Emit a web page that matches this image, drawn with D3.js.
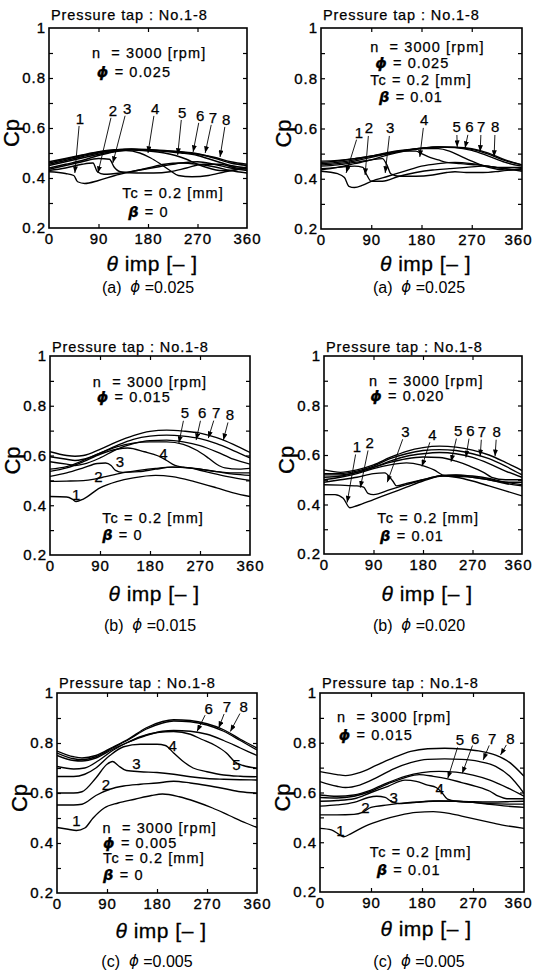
<!DOCTYPE html>
<html><head><meta charset="utf-8">
<script src="https://cdn.jsdelivr.net/npm/d3@7"></script>
<style>
body{margin:0;background:#fff}
text{font-family:"Liberation Sans",Arial,sans-serif;fill:#000;white-space:pre}
</style>
</head><body>
<svg id="c" width="534" height="973"></svg>
<script>
// ---------- axis ticks ----------
const xTicks=[0,90,180,270,360];
const yTicks=[0.2,0.4,0.6,0.8,1];
const xMinor=[90,180,270];
const yMinor=[0.3,0.4,0.5,0.6,0.7,0.8,0.9];
const tapNames=["1","2","3","4","5","6","7","8"];

// ---------- Panel (a) left : phi=0.025, beta=0 ----------
const a0_c1=[[0,.425],[30,.418],[45,.41],[52,.385],[65,.378],[90,.39],[120,.41],[150,.425],[180,.44],[210,.455],[240,.46],[270,.455],[300,.445],[330,.43],[360,.42]];
const a0_c2=[[0,.43],[30,.44],[60,.455],[80,.46],[88,.425],[100,.415],[130,.42],[160,.43],[200,.445],[240,.46],[270,.465],[300,.455],[330,.44],[360,.43]];
const a0_c3=[[0,.435],[30,.45],[60,.465],[90,.478],[110,.475],[118,.445],[130,.425],[160,.42],[190,.42],[220,.425],[250,.44],[280,.455],[310,.455],[340,.44],[360,.435]];
const a0_c4=[[0,.44],[30,.455],[60,.47],[90,.49],[120,.505],[140,.51],[165,.5],[185,.48],[200,.46],[220,.43],[235,.41],[260,.405],[290,.41],[320,.425],[360,.44]];
const a0_c5=[[0,.45],[30,.465],[60,.48],[90,.495],[120,.507],[150,.512],[180,.508],[210,.5],[230,.49],[250,.475],[270,.455],[290,.44],[310,.43],[330,.43],[360,.445]];
const a0_c6=[[0,.455],[30,.47],[60,.485],[90,.5],[120,.51],[150,.515],[180,.512],[210,.507],[240,.5],[270,.49],[300,.47],[330,.45],[360,.44]];
const a0_c7=[[0,.46],[30,.475],[60,.49],[90,.503],[120,.512],[150,.516],[180,.514],[210,.51],[240,.505],[270,.497],[300,.48],[330,.46],[360,.45]];
const a0_c8=[[0,.465],[30,.478],[60,.492],[90,.505],[120,.513],[150,.514],[180,.512],[210,.508],[240,.503],[270,.495],[300,.483],[330,.465],[360,.455]];
const a0_labels=[[56,.64,47,.42],[116,.672,89,.42],[142,.68,116,.46],[193,.68,180,.50],[242,.664,234,.492],[275,.652,262,.504],[298,.644,284,.50],[322,.636,311,.484]];

// ---------- Panel (a) right : phi=0.025, beta=0.01 ----------
const a1_c1=[[0,.43],[30,.42],[42,.405],[50,.37],[60,.365],[75,.375],[90,.39],[120,.41],[150,.43],[180,.45],[210,.46],[240,.465],[270,.46],[300,.45],[330,.44],[360,.43]];
const a1_c2=[[0,.44],[30,.445],[60,.45],[75,.445],[82,.415],[90,.39],[110,.39],[140,.41],[170,.425],[200,.435],[230,.44],[260,.445],[290,.45],[330,.44],[360,.435]];
const a1_c3=[[0,.45],[30,.455],[60,.465],[90,.475],[110,.48],[118,.455],[125,.42],[140,.41],[170,.41],[200,.415],[225,.425],[240,.428],[260,.425],[290,.425],[320,.43],[360,.44]];
const a1_c4=[[0,.455],[30,.46],[60,.47],[90,.485],[120,.5],[150,.51],[170,.51],[180,.5],[195,.485],[210,.475],[225,.465],[250,.46],[280,.455],[320,.445],[360,.445]];
const a1_c5=[[0,.46],[30,.465],[60,.475],[90,.49],[120,.505],[150,.515],[180,.52],[210,.52],[230,.51],[250,.49],[270,.47],[300,.445],[330,.435],[360,.44]];
const a1_c6=[[0,.465],[30,.47],[60,.48],[90,.49],[120,.502],[150,.513],[180,.522],[210,.526],[240,.524],[270,.513],[300,.49],[330,.465],[360,.45]];
const a1_c7=[[0,.47],[30,.473],[60,.48],[90,.49],[120,.5],[150,.512],[180,.522],[210,.527],[240,.525],[270,.517],[300,.498],[330,.472],[360,.455]];
const a1_c8=[[0,.435],[30,.445],[60,.46],[90,.475],[120,.495],[150,.51],[180,.52],[210,.527],[240,.526],[270,.52],[300,.502],[330,.475],[360,.455]];
const a1_labels=[[68,.586,45,.423],[86,.602,79,.415],[124,.602,115,.423],[185,.634,177,.487],[243,.606,244,.526],[266,.606,258,.522],[287,.606,285,.507],[312,.606,310,.487]];

// ---------- Panel (b) left : phi=0.015, beta=0 ----------
const b0_c1=[[0,.435],[30,.433],[40,.425],[47,.415],[60,.425],[90,.47],[120,.495],[150,.51],[190,.52],[220,.515],[260,.495],[300,.47],[330,.45],[360,.435]];
const b0_c2=[[0,.496],[30,.497],[60,.499],[80,.505],[100,.515],[130,.53],[160,.54],[190,.548],[220,.553],[250,.55],[280,.535],[320,.515],[360,.5]];
const b0_c3=[[0,.516],[30,.53],[60,.55],[85,.568],[100,.57],[110,.56],[118,.54],[130,.532],[160,.535],[190,.545],[220,.553],[260,.548],[300,.535],[330,.525],[360,.52]];
const b0_c4=[[0,.536],[30,.55],[60,.575],[90,.605],[120,.625],[140,.63],[170,.615],[195,.598],[210,.58],[225,.56],[240,.553],[270,.545],[300,.535],[330,.53],[360,.53]];
const b0_c5=[[0,.545],[30,.555],[60,.58],[90,.61],[120,.635],[150,.65],[180,.655],[210,.655],[240,.645],[265,.62],[285,.59],[300,.565],[315,.55],[340,.545],[360,.548]];
const b0_c6=[[0,.575],[30,.565],[45,.56],[60,.565],[90,.59],[120,.625],[150,.648],[180,.66],[210,.662],[240,.655],[270,.64],[300,.615],[330,.585],[360,.565]];
const b0_c7=[[0,.595],[30,.585],[45,.58],[60,.585],[90,.61],[120,.64],[150,.665],[180,.678],[210,.682],[240,.678],[270,.668],[300,.648],[330,.62],[360,.59]];
const b0_c8=[[0,.615],[30,.6],[45,.597],[60,.6],[90,.625],[120,.655],[150,.68],[180,.697],[210,.702],[240,.698],[270,.69],[300,.672],[330,.645],[360,.612]];
const b0_labels=[[47,.444],[87,.517],[126,.574],[204,.61],[243,.771,232,.65],[274,.771,263,.662],[299,.771,285,.67],[324,.764,312,.662]];

// ---------- Panel (b) right : phi=0.020, beta=0.01 ----------
const b1_c1=[[0,.44],[20,.44],[35,.425],[47,.387],[60,.395],[90,.42],[120,.445],[150,.47],[180,.495],[215,.515],[240,.51],[270,.495],[300,.475],[330,.455],[360,.435]];
const b1_c2=[[0,.48],[30,.478],[60,.475],[72,.47],[80,.445],[90,.44],[120,.46],[150,.48],[180,.5],[210,.515],[240,.518],[270,.51],[300,.5],[330,.485],[360,.475]];
const b1_c3=[[0,.49],[30,.5],[60,.51],[90,.525],[110,.528],[125,.495],[132,.475],[150,.485],[180,.5],[210,.515],[240,.52],[270,.515],[300,.505],[330,.49],[360,.48]];
const b1_c4=[[0,.5],[30,.51],[60,.525],[90,.545],[120,.56],[150,.568],[175,.56],[185,.553],[200,.54],[215,.52],[230,.515],[270,.51],[300,.5],[330,.49],[360,.49]];
const b1_c5=[[0,.51],[30,.515],[60,.53],[90,.55],[120,.57],[150,.585],[180,.592],[210,.59],[240,.575],[265,.555],[290,.53],[305,.51],[330,.5],[360,.5]];
const b1_c6=[[0,.52],[30,.52],[60,.53],[90,.55],[120,.575],[150,.595],[180,.605],[210,.61],[240,.605],[270,.59],[300,.565],[330,.535],[360,.51]];
const b1_c7=[[0,.525],[30,.525],[60,.535],[90,.555],[120,.585],[150,.605],[180,.618],[210,.622],[240,.618],[270,.605],[300,.585],[330,.555],[360,.52]];
const b1_c8=[[0,.54],[30,.53],[60,.54],[90,.56],[120,.59],[150,.615],[180,.63],[210,.636],[240,.632],[270,.62],[300,.6],[330,.57],[360,.537]];
const b1_labels=[[60,.634,42,.408],[83,.65,66,.468],[148,.694,115,.49],[197,.682,178,.554],[244,.698,231,.573],[266,.698,258,.59],[287,.694,284,.595],[314,.694,311,.595]];

// ---------- Panel (c) left : phi=0.005, beta=0 ----------
const c0_c1=[[0,.462],[20,.455],[35,.45],[50,.46],[65,.5],[85,.54],[110,.56],[140,.575],[170,.59],[190,.596],[220,.585],[250,.565],[280,.54],[310,.51],[340,.48],[360,.462]];
const c0_c2=[[0,.552],[30,.552],[45,.555],[70,.59],[95,.615],[120,.628],[150,.635],[180,.64],[210,.647],[240,.64],[270,.63],[300,.618],[330,.605],[360,.6]];
const c0_c3=[[0,.6],[30,.6],[45,.605],[70,.66],[90,.715],[100,.726],[110,.71],[125,.69],[150,.685],[180,.682],[210,.675],[240,.665],[270,.658],[300,.655],[330,.653],[360,.652]];
const c0_c4=[[0,.666],[30,.666],[50,.675],[70,.7],[95,.75],[120,.785],[150,.795],[180,.795],[195,.79],[210,.76],[225,.73],[245,.7],[270,.685],[300,.672],[330,.667],[360,.665]];
const c0_c5=[[0,.706],[30,.696],[50,.7],[75,.73],[100,.77],[125,.8],[150,.825],[180,.842],[210,.846],[240,.835],[260,.815],[285,.79],[305,.76],[320,.725],[335,.71],[360,.7]];
const c0_c6=[[0,.75],[30,.73],[45,.728],[70,.74],[100,.775],[130,.805],[160,.83],[190,.847],[210,.85],[240,.847],[270,.835],[300,.81],[330,.78],[360,.75]];
const c0_c7=[[0,.76],[30,.737],[45,.733],[70,.745],[100,.78],[130,.815],[160,.855],[190,.88],[210,.888],[240,.885],[270,.872],[300,.847],[330,.81],[360,.772]];
const c0_c8=[[0,.768],[30,.745],[45,.74],[70,.75],[100,.783],[130,.818],[160,.86],[190,.886],[210,.893],[240,.89],[270,.877],[300,.853],[330,.815],[360,.78]];
const c0_labels=[[35,.492],[88,.633],[143,.718],[208,.79],[323,.713],[273,.94,252,.846],[306,.946,291,.86],[336,.946,312,.846]];

// ---------- Panel (c) right : phi=0.015, beta=0.01 ----------
const c1_c1=[[0,.456],[20,.45],[35,.43],[42,.422],[55,.435],[80,.465],[110,.49],[140,.508],[170,.52],[200,.523],[230,.515],[260,.5],[290,.485],[320,.47],[360,.456]];
const c1_c2=[[0,.51],[30,.51],[60,.512],[75,.52],[90,.54],[120,.55],[150,.558],[180,.563],[210,.566],[240,.565],[270,.56],[300,.552],[330,.545],[360,.54]];
const c1_c3=[[0,.545],[30,.55],[60,.56],[85,.58],[100,.585],[115,.58],[125,.565],[140,.555],[170,.56],[200,.566],[240,.565],[270,.56],[300,.555],[330,.553],[360,.553]];
const c1_c4=[[0,.565],[30,.568],[60,.575],[90,.6],[120,.625],[150,.65],[170,.645],[190,.63],[205,.62],[215,.6],[225,.573],[240,.565],[270,.563],[300,.562],[330,.563],[360,.565]];
const c1_c5=[[0,.58],[30,.578],[60,.585],[90,.605],[120,.635],[150,.66],[175,.672],[200,.665],[225,.655],[250,.64],[275,.625],[300,.605],[315,.585],[330,.575],[360,.575]];
const c1_c6=[[0,.59],[30,.585],[60,.59],[90,.61],[120,.64],[150,.665],[180,.68],[210,.685],[240,.682],[270,.67],[300,.65],[330,.62],[360,.585]];
const c1_c7=[[0,.644],[30,.625],[45,.62],[70,.63],[100,.66],[130,.695],[160,.72],[190,.733],[220,.735],[250,.733],[280,.725],[310,.705],[335,.665],[360,.597]];
const c1_c8=[[0,.684],[30,.672],[45,.668],[70,.68],[100,.71],[130,.74],[160,.765],[190,.776],[220,.778],[250,.775],[280,.767],[310,.75],[335,.72],[360,.665]];
const c1_labels=[[36,.446],[80,.538],[130,.58],[211,.617],[247,.812,225.5,.657],[274,.819,251,.677],[304,.819,288,.731],[336,.819,318.6,.751]];

// ---------- condition texts (theta, Cp anchor of each line) ----------
const a0_info=[["n","3000 [rpm]",78,.90],["ϕ","0.025",87,.824],["Tc","0.2 [mm]",133,.34],["β","0",144,.264]];
const a1_info=[["n","3000 [rpm]",88,.924],["ϕ","0.025",97,.86],["Tc","0.2 [mm]",88,.793],["β","0.01",104,.725]];
const b0_info=[["n","3000 [rpm]",77,.895],["ϕ","0.015",84,.835],["Tc","0.2 [mm]",94,.349],["β","0",94,.28]];
const b1_info=[["n","3000 [rpm]",82,.898],["ϕ","0.020",84,.837],["Tc","0.2 [mm]",97,.347],["β","0.01",102,.274]];
const c0_info=[["n","3000 [rpm]",82,.46],["ϕ","0.005",83,.40],["Tc","0.2 [mm]",83,.34],["β","0",83,.271]];
const c1_info=[["n","3000 [rpm]",30,.904],["ϕ","0.015",33,.832],["Tc","0.2 [mm]",88,.36],["β","0.01",100,.288]];

const captions=[["(a)","0.025"],["(a)","0.025"],["(b)","0.015"],["(b)","0.020"],["(c)","0.005"],["(c)","0.005"]];

const panelData=[
  {curves:[a0_c1,a0_c2,a0_c3,a0_c4,a0_c5,a0_c6,a0_c7,a0_c8],labels:a0_labels,info:a0_info},
  {curves:[a1_c1,a1_c2,a1_c3,a1_c4,a1_c5,a1_c6,a1_c7,a1_c8],labels:a1_labels,info:a1_info},
  {curves:[b0_c1,b0_c2,b0_c3,b0_c4,b0_c5,b0_c6,b0_c7,b0_c8],labels:b0_labels,info:b0_info},
  {curves:[b1_c1,b1_c2,b1_c3,b1_c4,b1_c5,b1_c6,b1_c7,b1_c8],labels:b1_labels,info:b1_info},
  {curves:[c0_c1,c0_c2,c0_c3,c0_c4,c0_c5,c0_c6,c0_c7,c0_c8],labels:c0_labels,info:c0_info},
  {curves:[c1_c1,c1_c2,c1_c3,c1_c4,c1_c5,c1_c6,c1_c7,c1_c8],labels:c1_labels,info:c1_info}
];

// ---------- layout (pixels) ----------
const layout=[
 {x0:49,x1:247,yT:28,yB:228,titleY:15,axisY:263,capY:287,capX:148,right:false},
 {x0:321,x1:522,yT:28,yB:229,titleY:15,axisY:263,capY:287,capX:419,right:true},
 {x0:50,x1:250,yT:356,yB:555,titleY:347,axisY:593,capY:625,capX:150,right:false},
 {x0:324,x1:522,yT:356,yB:554,titleY:347,axisY:593,capY:625,capX:419,right:true},
 {x0:57,x1:257,yT:693,yB:893,titleY:683,axisY:930,capY:961,capX:147,right:false},
 {x0:320,x1:524,yT:693,yB:892,titleY:683,axisY:928,capY:961,capX:419,right:true}
];

const svg=d3.select("#c");
const defs=svg.append("defs");
defs.append("marker").attr("id","ah").attr("viewBox","0 0 8 6").attr("refX",8).attr("refY",3)
  .attr("markerWidth",7).attr("markerHeight",5).attr("orient","auto").attr("markerUnits","userSpaceOnUse")
  .append("path").attr("d","M0,0L8,3L0,6Z").attr("fill","#000");

layout.forEach((L,i)=>{
  const P=panelData[i];
  const xs=d3.scaleLinear().domain([0,360]).range([L.x0,L.x1]);
  const ys=d3.scaleLinear().domain([0.2,1]).range([L.yB,L.yT]);
  const g=svg.append("g");
  defs.append("clipPath").attr("id","cl"+i).append("rect")
    .attr("x",L.x0).attr("y",L.yT).attr("width",L.x1-L.x0).attr("height",L.yB-L.yT);

  // curves
  const line=d3.line().x(d=>xs(d[0])).y(d=>ys(d[1])).curve(d3.curveMonotoneX);
  g.append("g").attr("clip-path",`url(#cl${i})`).selectAll("path").data(P.curves).join("path")
    .attr("d",line).attr("fill","none").attr("stroke","#000").attr("stroke-width",1.35).attr("stroke-linejoin","round");

  const tickStyle=s=>{s.select(".domain").remove();s.selectAll("line").attr("stroke","#000").attr("stroke-width",1.2);};
  const labStyle=s=>{s.select(".domain").remove();s.selectAll("line").remove();
      s.selectAll("text").attr("font-size",15).attr("letter-spacing",1).attr("font-family","Liberation Sans, Arial")
       .attr("fill","#000").attr("stroke","#000").attr("stroke-width",0.35);};
  const xa=g.append("g").attr("transform",`translate(0,${L.yB})`)
    .call(d3.axisBottom(xs).tickValues(xTicks).tickSize(0).tickPadding(5).tickFormat(d3.format("d")))
    .call(labStyle);
  if(L.right) xa.selectAll(".tick").filter(d=>d===360).select("text").attr("text-anchor","end").attr("dx",Math.min(12,532-L.x1));
  g.append("g").attr("transform",`translate(${L.x0},0)`)
    .call(d3.axisLeft(ys).tickValues(yTicks).tickSize(0).tickPadding(3).tickFormat(d=>d===1?"1":d3.format(".1f")(d)))
    .call(labStyle);
  // inner tick marks on four sides
  g.append("g").attr("transform",`translate(0,${L.yB})`).call(d3.axisTop(xs).tickValues(xMinor).tickSize(4).tickFormat(""))
    .call(tickStyle);
  g.append("g").attr("transform",`translate(0,${L.yT})`).call(d3.axisBottom(xs).tickValues(xMinor).tickSize(4).tickFormat(""))
    .call(tickStyle);
  g.append("g").attr("transform",`translate(${L.x0},0)`).call(d3.axisRight(ys).tickValues(yMinor).tickSize(4).tickFormat(""))
    .call(tickStyle);
  g.append("g").attr("transform",`translate(${L.x1},0)`).call(d3.axisLeft(ys).tickValues(yMinor).tickSize(4).tickFormat(""))
    .call(tickStyle);

  // frame
  g.append("rect").attr("x",L.x0).attr("y",L.yT).attr("width",L.x1-L.x0).attr("height",L.yB-L.yT)
    .attr("fill","none").attr("stroke","#000").attr("stroke-width",1.6);

  // tap labels and arrows
  P.labels.forEach((lb,k)=>{
    const lx=xs(lb[0]), ly=ys(lb[1]);
    g.append("text").attr("x",lx).attr("y",ly).attr("text-anchor","middle").attr("dominant-baseline","central")
      .attr("font-size",15).attr("stroke","#000").attr("stroke-width",0.25).text(tapNames[k]);
    if(lb.length>2){
      const tx=xs(lb[2]), ty=ys(lb[3]);
      const dx=tx-lx, dy=ty-ly, len=Math.hypot(dx,dy);
      g.append("line").attr("x1",lx+dx/len*8).attr("y1",ly+dy/len*8).attr("x2",tx).attr("y2",ty)
        .attr("stroke","#000").attr("stroke-width",0.9).attr("marker-end","url(#ah)");
    }
  });

  // condition text
  P.info.forEach(r=>{
    const t=g.append("text").attr("x",xs(r[2])).attr("y",ys(r[3])).attr("dominant-baseline","central")
      .attr("font-size",14.5).attr("letter-spacing",1.1).attr("stroke","#000").attr("stroke-width",0.25);
    if(r[0]==="ϕ"||r[0]==="β"){
      t.append("tspan").attr("font-weight","bold").attr("font-style","italic").attr("font-family","DejaVu Sans").text(r[0]);
      t.append("tspan").text(" = "+r[1]);
    } else if(r[0]==="n"){
      t.append("tspan").text("n  = "+r[1]);
    } else {
      t.append("tspan").text(r[0]+" = "+r[1]);
    }
  });

  // title
  g.append("text").attr("x",L.x0+2).attr("y",L.titleY).attr("dominant-baseline","central")
    .attr("font-size",14.5).attr("letter-spacing",0.9).attr("stroke","#000").attr("stroke-width",0.25)
    .text("Pressure tap : No.1-8");

  // y label
  g.append("text").attr("transform",`translate(${L.x0-30},${ys(0.58)}) rotate(-90)`)
    .attr("text-anchor","middle").attr("font-size",22).attr("stroke","#000").attr("stroke-width",0.3).text("Cp");

  // x label
  const xl=g.append("text").attr("x",(L.x0+L.x1)/2+4).attr("y",L.axisY).attr("text-anchor","middle")
    .attr("dominant-baseline","central").attr("font-size",21).attr("letter-spacing",0.5)
    .attr("stroke","#000").attr("stroke-width",0.3);
  xl.append("tspan").attr("font-style","italic").text("θ");
  xl.append("tspan").text(" imp [– ]");

  // caption
  const cp=g.append("text").attr("x",L.capX).attr("y",L.capY).attr("text-anchor","middle")
    .attr("dominant-baseline","central").attr("font-size",16);
  cp.append("tspan").text(captions[i][0]+"  ");
  cp.append("tspan").attr("font-style","italic").attr("font-family","DejaVu Sans").attr("font-size",15).text("ϕ");
  cp.append("tspan").text(" ="+captions[i][1]);
});
</script>
</body></html>
